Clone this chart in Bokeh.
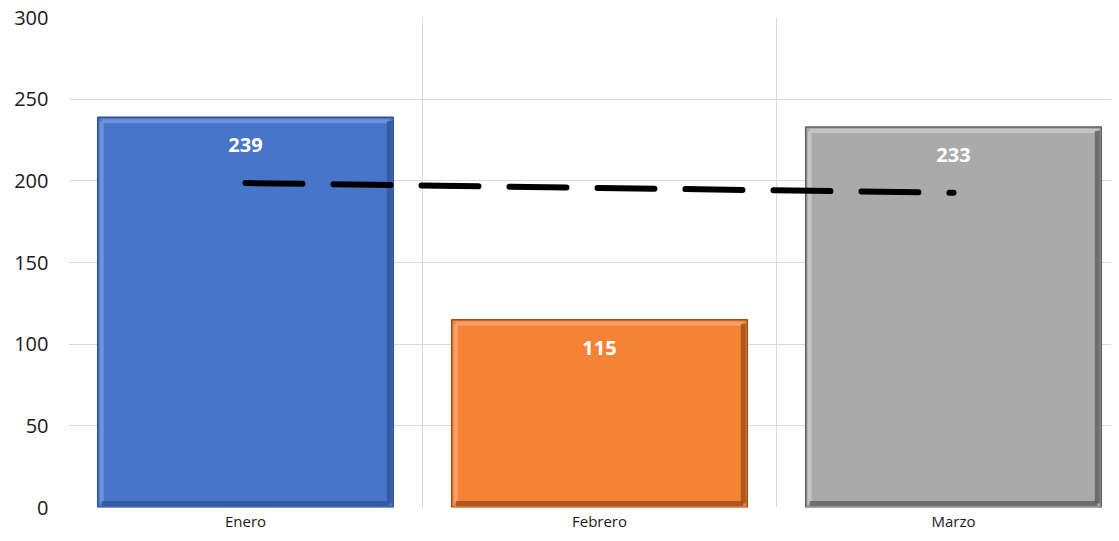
from bokeh.plotting import figure
from bokeh.models import ColumnDataSource, FixedTicker, Grid, Range1d
from bokeh.core.properties import value
from bokeh.embed import file_html
from bokeh.resources import INLINE

months = ["Enero", "Febrero", "Marzo"]
values = [239, 115, 233]
colors = ["#4675CA", "#F58336", "#AAAAAA"]
edge_colors = ["#2F5597", "#9C4E1C", "#5E5E5E"]
light_colors = ["#6E93D8", "#F8A06A", "#C4C4C4"]
y_ticks = [0, 50, 100, 150, 200, 250, 300]

FONT = "Open Sans"
xpos = [i + 0.5 for i in range(len(months))]

# linear trendline (least squares over the three months)
n = len(values)
mx = sum(xpos) / n
my = sum(values) / n
slope = sum((x - mx) * (y - my) for x, y in zip(xpos, values)) / sum((x - mx) ** 2 for x in xpos)
trend = [my + slope * (x - mx) for x in xpos]

W, H = 1111, 533
left, top, bottom = 68, 17, 26
frame_w = W - left
frame_h = H - top - bottom
cat_px = 354.0
ymax = 300
upp = ymax / frame_h          # y units per pixel
xpp = 1.0 / cat_px            # x units per pixel

p = figure(width=W, height=H, output_backend="svg", toolbar_location=None,
           x_range=Range1d(0, frame_w / cat_px), y_range=Range1d(0, ymax),
           min_border_left=left, min_border_right=0, min_border_top=top,
           min_border_bottom=bottom)
p.outline_line_color = None
p.background_fill_color = "white"
p.border_fill_color = "white"

p.xgrid.visible = False
p.ygrid.grid_line_color = "#D9D9D9"
p.ygrid.grid_line_width = 1
p.yaxis.ticker = FixedTicker(ticks=y_ticks)
vgrid = Grid(dimension=0, ticker=FixedTicker(ticks=list(range(len(months) + 1))),
             grid_line_color="#D9D9D9", grid_line_width=1)
p.add_layout(vgrid)

for ax in (p.xaxis, p.yaxis):
    ax.axis_line_color = None
    ax.major_tick_line_color = None
    ax.minor_tick_line_color = None
    ax.major_tick_out = 0
    ax.major_tick_in = 0
    ax.minor_tick_out = 0
    ax.major_label_text_font = FONT
    ax.major_label_text_color = "#1a1a1a"

p.yaxis.major_label_text_font_size = "20px"
p.yaxis.major_label_standoff = 20
p.xaxis.ticker = FixedTicker(ticks=xpos)
p.xaxis.major_label_overrides = {x: m for x, m in zip(xpos, months)}
p.xaxis.major_label_text_font_size = "15px"
p.xaxis.major_label_standoff = 3

bw = 0.835
half = bw / 2
inset = 4
src = ColumnDataSource(dict(
    x=xpos, top=values, color=colors, edge=edge_colors, light=light_colors,
    label=[str(v) for v in values], trend=trend,
    xl=[x - half + inset * xpp for x in xpos],
    xr=[x + half - inset * xpp for x in xpos],
    yb=[inset * upp] * n,
    yt=[v - inset * upp for v in values],
))

p.vbar(x="x", top="top", width=bw, bottom=0, source=src, fill_color="color",
       line_color="edge", line_width=1.5)
# bevel: light top/left inner edges, dark right/bottom inner edges
p.segment(x0="xl", y0="yt", x1="xr", y1="yt", source=src, line_color="light", line_width=4)
p.segment(x0="xl", y0="yb", x1="xl", y1="yt", source=src, line_color="light", line_width=4)
p.segment(x0="xr", y0="yb", x1="xr", y1="yt", source=src, line_color="edge", line_width=5, line_alpha=0.8)
p.segment(x0="xl", y0="yb", x1="xr", y1="yb", source=src, line_color="edge", line_width=5, line_alpha=0.8)

p.text(x="x", y="top", text="label", source=src, text_color="white",
       text_font=value(FONT), text_font_style="bold", text_font_size="20px",
       text_align="center", text_baseline="middle", y_offset=28)

p.line(x="x", y="trend", source=src, line_color="black", line_width=6,
       line_dash="57 31", line_cap="round")

open("out.html", "w").write(file_html(p, INLINE))
